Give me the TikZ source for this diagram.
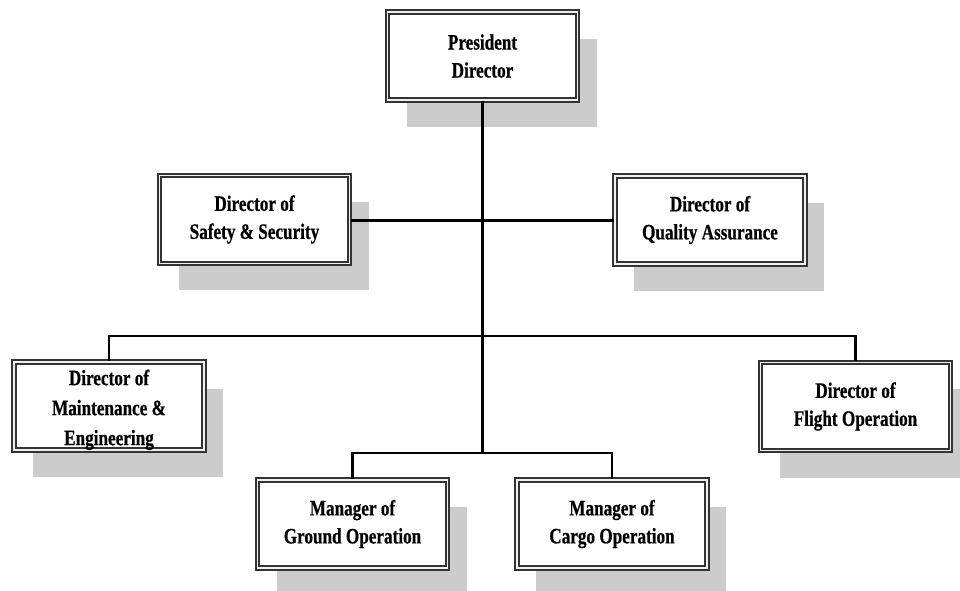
\documentclass[tikz,border=0pt]{standalone}
\usepackage{fontspec}
\newfontfamily\orgfont[FakeStretch=0.78, FakeBold=0.6]{Liberation Serif}
\usetikzlibrary{shadows}
\definecolor{shadowgray}{gray}{0.80}
\definecolor{bordergray}{gray}{0.2}
\tikzset{
  orgbox/.style={rectangle, draw=bordergray, line width=1.5pt, double=gray!12, double distance=1.3pt,
    fill=white, minimum width=142.5pt, minimum height=66pt, inner sep=0pt, align=center,
    font=\orgfont\bfseries\fontsize{16.5}{21}\selectfont,
    drop shadow={shadow xshift=14.25pt, shadow yshift=-20.25pt, fill=shadowgray, opacity=1}},
  link/.style={draw=black, line width=1.6pt}
}
\begin{document}
\begin{tikzpicture}[x=0.75pt, y=-0.75pt]
\useasboundingbox (0,0) rectangle (960,591);
\node[orgbox] (pres) at (482.5,56) {President\\Director};
\node[orgbox] (safe) at (254.5,219.5) {Director of\\Safety \& Security};
\node[orgbox] (qual) at (710,220) {Director of\\Quality Assurance};
\node[orgbox] (maint) at (109,406) {\raisebox{-7pt}[0pt][0pt]{\begin{tabular}{@{}c@{}}Director of\\[1.5pt]Maintenance \&\\[1.5pt]Engineering\end{tabular}}};
\node[orgbox] (flight) at (855.5,406.5) {Director of\\Flight Operation};
\node[orgbox] (ground) at (352.5,524) {Manager of\\Ground Operation};
\node[orgbox] (cargo) at (612,524) {Manager of\\Cargo Operation};
\coordinate (hb) at (482.5,336);
\coordinate (cb) at (482.5,453);
\coordinate (sq) at (482.5,220.5);
\path[link] (safe.east |- sq) -- (qual.west |- sq);
\path[link] (pres.south) -- (cb);
\path[link] (maint.north) |- (hb) -| (flight.north);
\path[link] (ground.north) |- (cb) -| (cargo.north);
\end{tikzpicture}
\end{document}
